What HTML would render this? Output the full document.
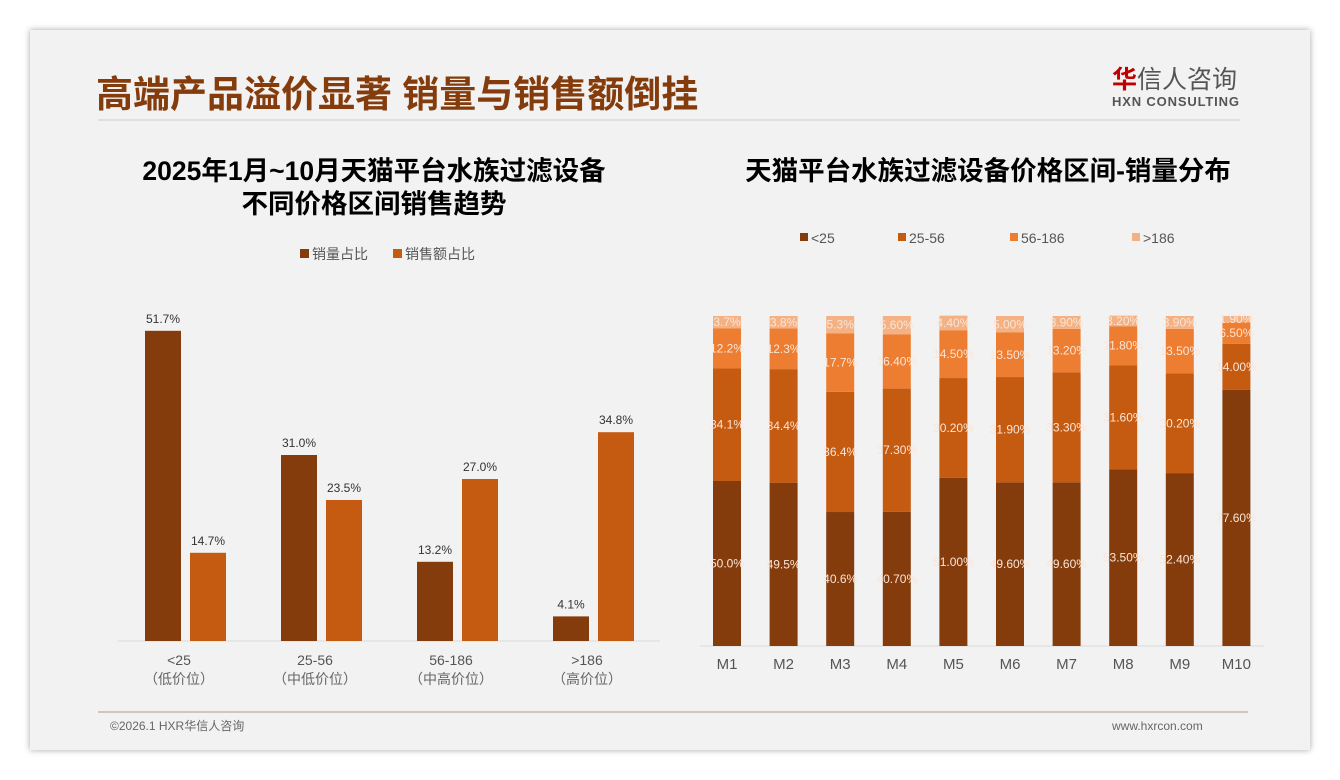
<!DOCTYPE html>
<html><head><meta charset="utf-8">
<style>
html,body{margin:0;padding:0;width:1340px;height:780px;background:#fff;overflow:hidden}
body{font-family:"Liberation Sans","Noto Sans CJK SC",sans-serif}
#card{position:absolute;left:30px;top:30px;width:1280px;height:720px;background:#f2f2f2;box-shadow:0 0 6px rgba(0,0,0,.35)}
svg{position:absolute;left:0;top:0}
</style></head><body>
<div id="card"></div>
<svg id="chart" width="1340" height="780">
<text x="96" y="107" font-size="37" font-weight="bold" fill="#843C0C">高端产品溢价显著 销量与销售额倒挂</text>
<line x1="98" y1="120" x2="1240" y2="120" stroke="#d9d9d9" stroke-width="1.5"/>
<text x="1112" y="88" font-size="25" fill="#555"><tspan fill="#c00000" font-weight="bold">华</tspan>信人咨询</text>
<text x="1112" y="106" font-size="13" font-weight="bold" fill="#555" textLength="127">HXN CONSULTING</text>
<text x="374" y="180" font-size="26.5" font-weight="bold" fill="#000" text-anchor="middle">2025年1月~10月天猫平台水族过滤设备</text>
<text x="374" y="213" font-size="26.5" font-weight="bold" fill="#000" text-anchor="middle">不同价格区间销售趋势</text>
<text x="988" y="180" font-size="26.5" font-weight="bold" fill="#000" text-anchor="middle">天猫平台水族过滤设备价格区间-销量分布</text>
<line x1="98" y1="712" x2="1248" y2="712" stroke="#c8b4a6" stroke-width="1.5"/>
<text x="110" y="730" font-size="12" fill="#666">©2026.1 HXR华信人咨询</text>
<text x="1112" y="730" font-size="12" fill="#666">www.hxrcon.com</text>
</svg>
<script>
const leftCats=["<25","25-56","56-186",">186"];
const leftSub=["（低价位）","（中低价位）","（中高价位）","（高价位）"];
const volShare=[51.7,31.0,13.2,4.1];
const salesShare=[14.7,23.5,27.0,34.8];
const leftSeriesNames=["销量占比","销售额占比"];

const months=["M1","M2","M3","M4","M5","M6","M7","M8","M9","M10"];
const seg1=[50.0,49.5,40.6,40.7,51.0,49.6,49.6,53.5,52.4,77.6];
const seg2=[34.1,34.4,36.4,37.3,30.2,31.9,33.3,31.6,30.2,14.0];
const seg3=[12.2,12.3,17.7,16.4,14.5,13.5,13.2,11.8,13.5,6.5];
const seg4=[3.7,3.8,5.3,5.6,4.4,5.0,3.9,3.2,3.9,1.9];
const labelDecimals=[1,1,1,2,2,2,2,2,2,2];
const rightSeriesNames=["<25","25-56","56-186",">186"];

const NS="http://www.w3.org/2000/svg";
const svg=document.getElementById('chart');
function mk(tag,attrs,txt){const e=document.createElementNS(NS,tag);for(const k in attrs)e.setAttribute(k,attrs[k]);if(txt!==undefined)e.textContent=txt;svg.appendChild(e);return e;}
const cDark="#843C0C",cMid="#C55A11",cLight="#ED7D31",cPale="#F4B183";

const lBase=641,lScale=6.0;
const ly=v=>lBase-v*lScale;
const lx=i=>182+i*136;
let e;
e=mk('line',{x1:118,y1:lBase,x2:660,y2:lBase,stroke:"#d9d9d9","stroke-width":1});


[cDark,cMid].forEach((c,k)=>{
  const x0=[300,393][k];
  e=mk('rect',{x:x0,y:249,width:9,height:9,fill:c});
  
  
  e=mk('text',{x:x0+12,y:259,"font-size":14,fill:"#555"},leftSeriesNames[k]);
  
  
});
leftCats.forEach((c,i)=>{
  const cx=lx(i);
  [[volShare,cDark,cx-37],[salesShare,cMid,cx+8]].forEach(([arr,col,x0],k)=>{
    const v=arr[i];
    e=mk('rect',{x:x0,y:ly(v),width:36,height:lBase-ly(v),fill:col});
    
    
    e=mk('text',{x:x0+18,y:ly(v)-8,"font-size":12,fill:"#333","text-anchor":"middle"},v.toFixed(1)+"%");
    
    
  });
  e=mk('text',{x:cx-3,y:665,"font-size":14,fill:"#555","text-anchor":"middle"},c);
  
  
  e=mk('text',{x:cx-3,y:684,"font-size":14,fill:"#666","text-anchor":"middle"},leftSub[i]);
  
  
});

const rBase=646,rScale=3.3;
const rx=i=>727+i*56.6;
e=mk('line',{x1:700,y1:rBase,x2:1264,y2:rBase,stroke:"#d9d9d9","stroke-width":1});


const cols=[cDark,cMid,cLight,cPale];
[800,898,1010,1132].forEach((x0,k)=>{
  e=mk('rect',{x:x0,y:233,width:8,height:8,fill:cols[k]});
  
  
  e=mk('text',{x:x0+11,y:243,"font-size":14,fill:"#555"},rightSeriesNames[k]);
  
  
});
const segs=[seg1,seg2,seg3,seg4];
months.forEach((m,i)=>{
  let acc=0;const cx=rx(i);
  segs.forEach((s,k)=>{
    const v=s[i];const y1=rBase-(acc+v)*rScale,h=v*rScale;
    e=mk('rect',{x:cx-14,y:y1,width:28,height:h,fill:cols[k]});
    
    
    e=mk('text',{x:cx,y:y1+h/2+4,"font-size":12,fill:"#fbe5d6","text-anchor":"middle"},v.toFixed(labelDecimals[i])+"%");
    
    
    acc+=v;
  });
  e=mk('text',{x:cx,y:669,"font-size":15,fill:"#555","text-anchor":"middle"},m);
  
  
});
</script>
</body></html>
